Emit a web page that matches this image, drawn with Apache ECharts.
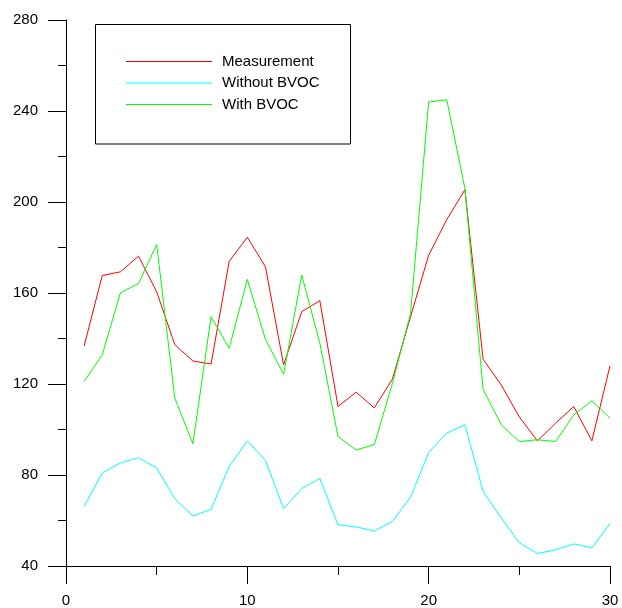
<!DOCTYPE html>
<html>
<head>
<meta charset="utf-8">
<script src="https://cdn.jsdelivr.net/npm/echarts@6/dist/echarts.min.js"></script>
<style>html,body{margin:0;padding:0;background:#fff}#c{width:622px;height:608px}</style>
</head>
<body>
<div id="c"></div>
<script>
var days = [1,2,3,4,5,6,7,8,9,10,11,12,13,14,15,16,17,18,19,20,21,22,23,24,25,26,27,28,29,30];
var measurement = [136.7,167.7,169.3,176.2,160.5,137.3,130.1,128.8,173.9,184.5,171.5,128.4,151.8,156.6,110.1,116.4,109.5,122.1,149.6,176.6,192.3,205.4,130.9,119.6,105.5,95,102.8,110.1,95,128];
var withoutBVOC = [66.2,80.9,85.3,87.6,83.1,69.6,62,64.9,83.8,95,86.4,65.2,74,78.5,58.1,57.2,55.4,59.6,70.2,89.9,98.4,102.1,72.8,61.1,50.2,45.5,47.1,49.7,48,58.6];
var withBVOC = [121.1,132.8,160.1,164.2,181.3,113.8,93.7,149.6,135.7,166,139.6,124.3,167.9,137.9,96.9,91,93.3,120.3,151,244,244.9,205.9,117.7,102.1,94.7,95.5,94.7,106.4,112.6,105];
var seriesNames = ['Measurement','Without BVOC','With BVOC'];
var seriesColors = ['#ff0000','#00ffff','#00ff00'];

function pairs(vals){ return days.map(function(d,i){ return [d, vals[i]]; }); }
var allVals = [measurement, withoutBVOC, withBVOC];
var font = 'Liberation Sans, Arial, sans-serif';

var chart = echarts.init(document.getElementById('c'), null, {renderer:'canvas'});
chart.setOption({
  animation:false,
  backgroundColor:'#fff',
  grid:{left:66, top:20, right:12, bottom:41.5, containLabel:false},
  xAxis:{type:'value', min:0, max:30, interval:10,
    axisLine:{show:true, lineStyle:{color:'#000', width:1}},
    axisTick:{show:true, inside:false, length:18, lineStyle:{color:'#000'}},
    minorTick:{show:true, splitNumber:2, length:9, lineStyle:{color:'#000'}},
    splitLine:{show:false},
    axisLabel:{color:'#000', fontSize:15, fontFamily:font, margin:27}
  },
  yAxis:{type:'value', min:40, max:280, interval:40,
    axisLine:{show:true, lineStyle:{color:'#000', width:1}},
    axisTick:{show:true, inside:false, length:18, lineStyle:{color:'#000'}},
    minorTick:{show:true, splitNumber:2, length:8, lineStyle:{color:'#000'}},
    splitLine:{show:false},
    axisLabel:{color:'#000', fontSize:15, fontFamily:font, margin:28}
  },
  legend:{orient:'vertical', left:126, top:54, icon:'rect', itemWidth:86, itemHeight:1, itemGap:6.5, padding:0,
    textStyle:{fontSize:15, lineHeight:15, fontFamily:font, color:'#000', padding:[0,0,0,5]},
    data:seriesNames
  },
  graphic:[{type:'rect', shape:{x:95.5, y:24.5, width:255, height:119.5}, style:{fill:null, stroke:'#000', lineWidth:1}, z:100}],
  series: seriesNames.map(function(n,k){
    return {name:n, type:'line', data:pairs(allVals[k]), symbol:'none', showSymbol:false,
      lineStyle:{color:seriesColors[k], width:1}, itemStyle:{color:seriesColors[k]}};
  })
});
</script>
</body>
</html>
